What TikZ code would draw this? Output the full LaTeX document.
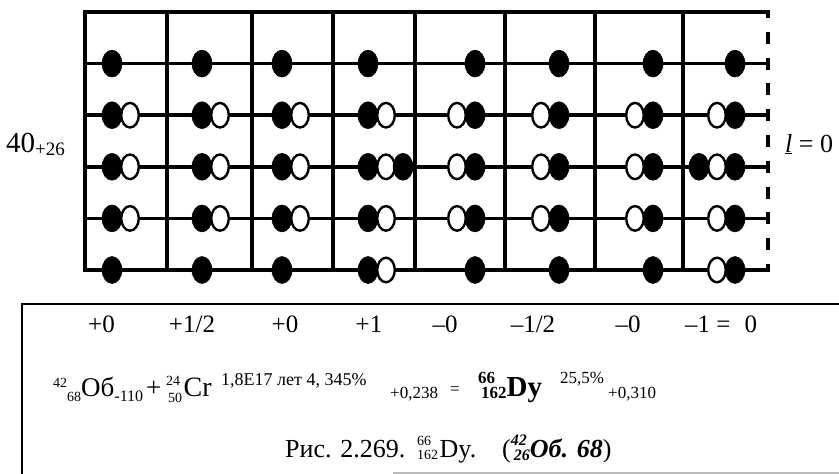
\documentclass[tikz,border=0pt]{standalone}
\usepackage{fontspec}
\setmainfont{Liberation Serif}
\newcommand\myfs[1]{\fontsize{#1}{#1}\selectfont}
\newcommand\blackdot[2]{\path[bdot] (#1,#2) ellipse [x radius=10, y radius=13.5];}
\newcommand\whitedot[2]{\path[wdot] (#1,#2) ellipse [x radius=8.8, y radius=12.3];}
% stacked super/subscript: #1 up shift, #2 down shift, #3 upper, #4 lower
\newcommand\supsub[4]{\rlap{\raisebox{#1}{#3}}\raisebox{-#2}{#4}}
\begin{document}
\begin{tikzpicture}[x=1pt,y=-1pt,
  gridline/.style={line width=3.5pt},
  bdot/.style={fill=black, draw=black, line width=0.5pt},
  wdot/.style={fill=white, draw=black, line width=2.4pt},
  txt/.style={inner sep=0pt, anchor=base west},
  ctxt/.style={inner sep=0pt, anchor=base},
]
\useasboundingbox (0,0) rectangle (839,474);
% grid
\foreach \x in {85,167,252,333,415,505,595,683} \draw[gridline] (\x,12) -- (\x,270);
\draw[gridline] (83.25,12) -- (770,12);
\foreach \y in {63.6,115.2,166.8,218.4} \draw[gridline] (85,\y) -- (768,\y);
\draw[gridline] (83.25,270) -- (768,270);
% dashed right edge
\foreach \k in {0,...,10} {
  \pgfmathsetmacro{\ya}{max(12,12+25.8*\k-6)}
  \pgfmathsetmacro{\yb}{min(271.5,12+25.8*\k+6)}
  \draw[line width=3.2pt] (768,\ya) -- (768,\yb);
}
% row 1
\foreach \x in {112,202,282,368,475,559,653,735} {\blackdot{\x}{63.6}}
% rows 2 and 4
\foreach \y in {115.2,218.4} {
  \foreach \x in {112,202,282,368} {\blackdot{\x}{\y}\whitedot{\x+18}{\y}}
  \foreach \x in {457,541,635,717} {\whitedot{\x}{\y}\blackdot{\x+18}{\y}}
}
% row 3
\foreach \x in {112,202,282} {\blackdot{\x}{166.8}\whitedot{\x+18}{166.8}}
\blackdot{368}{166.8}\whitedot{386}{166.8}\blackdot{403}{166.8}
\foreach \x in {457,541,635} {\whitedot{\x}{166.8}\blackdot{\x+18}{166.8}}
\blackdot{699}{166.8}\whitedot{717}{166.8}\blackdot{735}{166.8}
% row 5
\foreach \x in {112,202,282,475,559,653} {\blackdot{\x}{270}}
\blackdot{368}{270}\whitedot{386}{270}
\whitedot{717}{270}\blackdot{735}{270}
% side labels
\node[txt] (n40) at (6,152) {\myfs{29}40\myfs{19}\raisebox{-3pt}{+26}};
\node[txt] (nl) at (785,152) {\myfs{26}\underline{\textit{l}} = 0};
% box
\draw[line width=2.6pt] (22,474) -- (22,304) -- (839,304);
\draw[gray!55, line width=1.5pt] (393,473) -- (839,473);
% quantum labels
\node[ctxt] (q1) at (101.5,332) {\myfs{25}+0};
\node[ctxt] (q2) at (192,332) {\myfs{25}+1/2};
\node[ctxt] (q3) at (285,332) {\myfs{25}+0};
\node[ctxt] (q4) at (369,332) {\myfs{25}+1};
\node[ctxt] (q5) at (445,332) {\myfs{25}–0};
\node[ctxt] (q6) at (533,332) {\myfs{25}–1/2};
\node[ctxt] (q7) at (628,332) {\myfs{25}–0};
\node[txt] (q8) at (685,332) {\myfs{25}–1 =\hspace{14pt}0};
% formula line
\node[txt] (f1) at (53,396) {\myfs{14}\raisebox{9pt}{42}\raisebox{-5pt}{68}\myfs{27}Об\myfs{16}\raisebox{-5pt}{-110}};
\node[txt] (f5) at (146,396) {\myfs{27}+};
\node[txt] (f6) at (166,396) {\myfs{14}\supsub{11pt}{6pt}{24}{\hspace{2pt}50}\hspace{1.5pt}\myfs{28}Cr};
\node[txt] (f9) at (221,385) {\myfs{18}1,8E17 лет 4, 345\%};
\node[txt] (f13) at (390,398) {\myfs{17}+0,238};
\node[txt] (f14) at (450,394) {\myfs{17}=};
\node[txt] (f15) at (478,396) {\myfs{17}\bfseries\supsub{13pt}{2pt}{66}{\hspace{3pt}162}\myfs{29}Dy};
\node[txt] (f18) at (560,383) {\myfs{17}25,5\%};
\node[txt] (f19) at (608,398) {\myfs{17}+0,310};
% caption
\node[txt] (c1) at (285,457) {\myfs{26}Рис. 2.269.};
\node[txt] (c2) at (417,457) {\myfs{14}\supsub{12pt}{2pt}{66}{162}\hspace{1.5pt}\myfs{26}Dy.};
\node[txt] (c5) at (502,457) {\myfs{26}(\bfseries\itshape\myfs{16}\supsub{12pt}{3pt}{42}{\hspace{3pt}26}\myfs{26}Об. 68\mdseries\upshape)};
\end{tikzpicture}
\end{document}
